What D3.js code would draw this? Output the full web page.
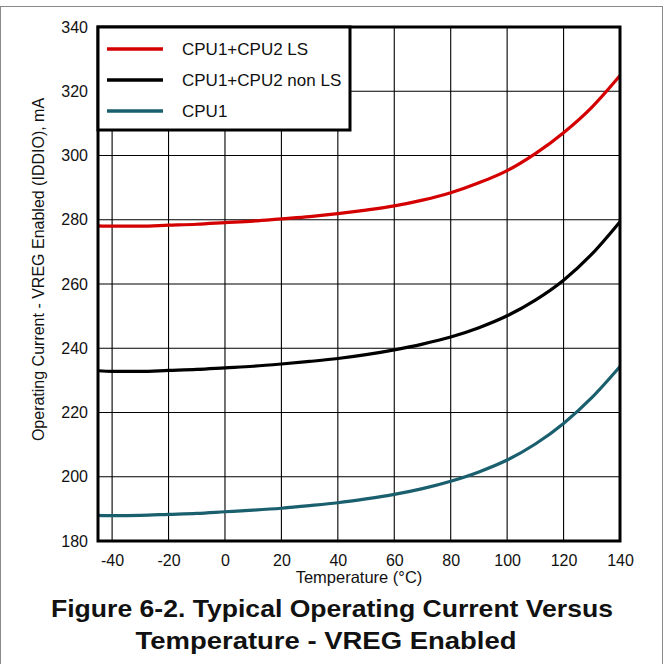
<!DOCTYPE html>
<html>
<head>
<meta charset="utf-8">
<script src="https://cdn.jsdelivr.net/npm/d3@7"></script>
<style>
  body { margin: 0; background: #fff; }
  text { font-family: "Liberation Sans", Arial, sans-serif; fill: #111; }
</style>
</head>
<body>
<div id="plot"></div>
<script>
// temperature in degC
var temps = [-45, -40, -30, -20, -10, 0, 10, 20, 30, 40, 50, 60, 70, 80, 90, 100, 110, 120, 130, 140];
// IDDIO in mA
var cpu12LS    = [278.1, 278.0, 278.0, 278.3, 278.6, 279.1, 279.6, 280.3, 281.0, 281.9, 283.0, 284.3, 286.1, 288.4, 291.5, 295.3, 300.6, 307.1, 315.0, 324.9];
var cpu12nonLS = [233.0, 232.8, 232.8, 233.1, 233.4, 233.9, 234.4, 235.1, 235.9, 236.8, 238.0, 239.5, 241.3, 243.5, 246.4, 250.1, 255.0, 261.2, 269.3, 279.4];
var cpu1       = [188.0, 187.9, 188.0, 188.3, 188.6, 189.1, 189.6, 190.2, 191.0, 191.9, 193.1, 194.5, 196.3, 198.6, 201.5, 205.2, 210.2, 216.6, 224.6, 234.3];

var seriesNames = ["CPU1+CPU2 LS", "CPU1+CPU2 non LS", "CPU1"];
var xTicks = [-40, -20, 0, 20, 40, 60, 80, 100, 120, 140];
var yTicks = [180, 200, 220, 240, 260, 280, 300, 320, 340];

window.addEventListener('load', main);

function main(){
  var W = 666, H = 664;
  var left = 98, right = 620, top = 27, bottom = 541;

  var svg = d3.select('#plot').append('svg')
    .attr('width', W).attr('height', H);

  // outer figure frame
  svg.append('rect')
    .attr('x', 0.5).attr('y', 6.5).attr('width', 662).attr('height', 700)
    .attr('fill', 'none').attr('stroke', '#8a8a8a').attr('stroke-width', 1);

  var x = d3.scaleLinear().domain([-45, 140]).range([left, right]);
  var y = d3.scaleLinear().domain([180, 340]).range([bottom, top]);

  // grid
  var grid = svg.append('g').attr('stroke', '#000').attr('stroke-width', 1.1);
  grid.selectAll('.vx').data(xTicks).join('line')
    .attr('x1', d => x(d)).attr('x2', d => x(d))
    .attr('y1', top).attr('y2', bottom);
  grid.selectAll('.hy').data(yTicks).join('line')
    .attr('x1', left).attr('x2', right)
    .attr('y1', d => y(d)).attr('y2', d => y(d));

  // axes: labels only, no tick marks (plain hyphen for negatives)
  var xAxis = svg.append('g').attr('transform', 'translate(0,' + bottom + ')')
    .call(d3.axisBottom(x).tickValues(xTicks).tickFormat(d => String(d)).tickSize(0).tickPadding(14));
  var yAxis = svg.append('g').attr('transform', 'translate(' + left + ',0)')
    .call(d3.axisLeft(y).tickValues(yTicks).tickFormat(d => String(d)).tickSize(0).tickPadding(10));
  [xAxis, yAxis].forEach(function(a){
    a.select('.domain').remove();
    a.selectAll('text').attr('font-size', 16)
      .attr('font-family', '"Liberation Sans", Arial, sans-serif').attr('fill', '#111');
  });

  // curves
  var series = [
    {name: seriesNames[0], values: cpu12LS, color: '#d40000'},
    {name: seriesNames[1], values: cpu12nonLS, color: '#000000'},
    {name: seriesNames[2], values: cpu1, color: '#1a5f6e'}
  ];
  var line = d3.line()
    .x((d, i) => x(temps[i]))
    .y(d => y(d))
    .curve(d3.curveMonotoneX);

  svg.append('g').selectAll('path').data(series).join('path')
    .attr('d', d => line(d.values))
    .attr('fill', 'none')
    .attr('stroke', d => d.color)
    .attr('stroke-width', 3.2);

  // plot frame
  svg.append('rect')
    .attr('x', left).attr('y', top).attr('width', right - left).attr('height', bottom - top)
    .attr('fill', 'none').attr('stroke', '#000').attr('stroke-width', 3);

  // legend
  var lg = svg.append('g');
  lg.append('rect')
    .attr('x', left).attr('y', top).attr('width', 252).attr('height', 103)
    .attr('fill', '#fff').attr('stroke', '#000').attr('stroke-width', 3);
  var item = lg.selectAll('.item').data(series).join('g')
    .attr('transform', (d, i) => 'translate(0,' + (49 + i * 31) + ')');
  item.append('line')
    .attr('x1', 107).attr('x2', 163)
    .attr('stroke', d => d.color).attr('stroke-width', 3.6);
  item.append('text')
    .attr('x', 182).attr('y', 6)
    .attr('font-size', 17)
    .text(d => d.name);

  // axis titles
  svg.append('text')
    .attr('x', (left + right) / 2).attr('y', 583)
    .attr('text-anchor', 'middle').attr('font-size', 16.5)
    .text('Temperature (°C)');
  svg.append('text')
    .attr('transform', 'translate(44,' + 269.5 + ') rotate(-90)')
    .attr('text-anchor', 'middle').attr('font-size', 16)
    .text('Operating Current - VREG Enabled (IDDIO), mA');

  // caption
  var caption = ['Figure 6-2. Typical Operating Current Versus', 'Temperature - VREG Enabled'];
  svg.selectAll('.cap').data(caption).join('text')
    .attr('x', (d, i) => i == 0 ? 332 : 326)
    .attr('y', (d, i) => 617 + i * 31.5)
    .attr('text-anchor', 'middle')
    .attr('font-size', 24).attr('font-weight', 'bold')
    .attr('textLength', (d, i) => i == 0 ? 562 : 381)
    .attr('lengthAdjust', 'spacingAndGlyphs')
    .text(d => d);
}
</script>
</body>
</html>
